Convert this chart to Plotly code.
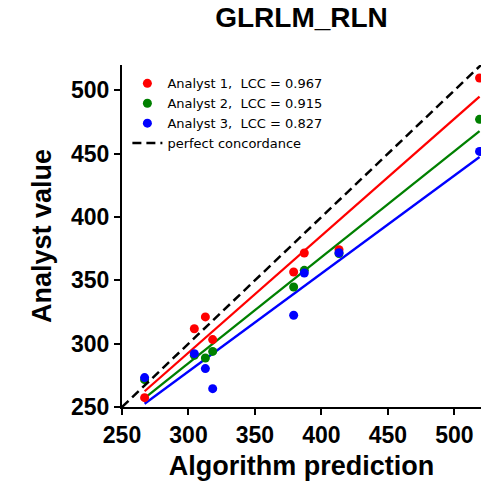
import numpy as np
import plotly.graph_objects as go

# Data
x_pred = [267.0, 304.4, 312.7, 318.2, 379.1, 387.1, 413.2, 518.9]
analyst1 = [257.4, 311.8, 321.1, 303.2, 356.6, 371.6, 374.2, 509.7]
analyst2 = [271.6, 290.8, 288.7, 293.9, 344.7, 357.9, 371.1, 477.1]
analyst3 = [273.2, 292.1, 280.3, 264.5, 322.4, 355.8, 371.8, 451.8]
names = ["Analyst 1,\u00a0 LCC = 0.967", "Analyst 2,\u00a0 LCC = 0.915", "Analyst 3,\u00a0 LCC = 0.827"]
colors = ["#ff0000", "#008000", "#0000ff"]
axis_range = [250, 520]
tick_vals = [250, 300, 350, 400, 450, 500]

FONT = "Liberation Sans, Arial, sans-serif"

fig = go.Figure()

series = [analyst1, analyst2, analyst3]
# regression lines (behind points)
xs = np.array(x_pred)
for ys, c in zip(series, colors):
    k, b = np.polyfit(xs, np.array(ys), 1)
    xl = np.array([xs.min(), xs.max()])
    fig.add_trace(go.Scatter(x=xl, y=k * xl + b, mode="lines",
                             line=dict(color=c, width=2.3),
                             showlegend=False, hoverinfo="skip"))

for ys, c, n in zip(series, colors, names):
    fig.add_trace(go.Scatter(x=x_pred, y=ys, mode="markers", name=n,
                             marker=dict(color=c, size=9)))

fig.add_trace(go.Scatter(x=axis_range, y=axis_range, mode="lines",
                         name="perfect concordance",
                         line=dict(color="black", width=2.5, dash="9px,5px")))

axis_common = dict(
    range=axis_range, tickvals=tick_vals, showgrid=False, zeroline=False,
    showline=True, linecolor="black", linewidth=2,
    ticks="outside", ticklen=6, tickwidth=2, tickcolor="black",
    tickfont=dict(family=FONT, size=23, color="black", weight="bold"),
)

fig.update_layout(
    width=486, height=483,
    margin=dict(l=122, r=5, t=65, b=76),
    paper_bgcolor="white", plot_bgcolor="white",
    title=dict(text="<b>GLRLM_RLN</b>", x=0.5, xref="paper", y=1 - 17 / 483,
               yanchor="middle", font=dict(family=FONT, size=28, color="black")),
    xaxis=dict(**axis_common,
               title=dict(text="<b>Algorithm prediction</b>", standoff=10,
                          font=dict(family=FONT, size=27, color="black"))),
    yaxis=dict(**axis_common,
               title=dict(text="<b>Analyst value</b>", standoff=12,
                          font=dict(family=FONT, size=27, color="black"))),
    legend=dict(x=0.015, y=0.99, xanchor="left", yanchor="top",
                bgcolor="rgba(0,0,0,0)",
                font=dict(family="DejaVu Sans, sans-serif", size=13, color="black"),
                tracegroupgap=0, itemwidth=30),
    showlegend=True,
)

fig.write_html("out.html")
